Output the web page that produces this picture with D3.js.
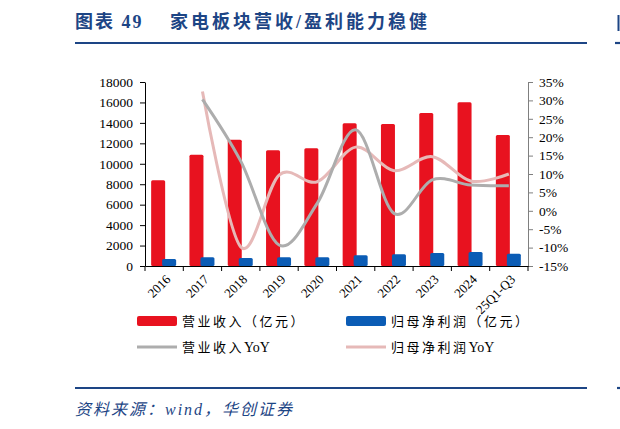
<!DOCTYPE html>
<html>
<head>
<meta charset="utf-8">
<script src="https://cdn.jsdelivr.net/npm/d3@7"></script>
<style>
  body { margin: 0; background: #fff; }
  svg { display: block; }
</style>
</head>
<body>
<div id="chart"></div>
<script>
// data
const categories = ["2016", "2017", "2018", "2019", "2020", "2021", "2022", "2023", "2024", "25Q1-Q3"];
const revenue = [8400, 10890, 12360, 11320, 11510, 13960, 13890, 14970, 16010, 12820];
const netProfit = [680, 850, 780, 850, 850, 1040, 1140, 1270, 1370, 1200];
const revenueYoY = [null, 30.3, 13.5, -9.3, 2.1, 22, -0.7, 8.4, 7, 6.8];
const profitYoY = [null, 32.4, -9.8, 9.7, 7.9, 17.3, 10.9, 14.7, 8.1, 10];
const leftTicks = [0, 2000, 4000, 6000, 8000, 10000, 12000, 14000, 16000, 18000];
const rightTicks = [-15, -10, -5, 0, 5, 10, 15, 20, 25, 30, 35];

const W = 620, H = 429;
const plot = { left: 145, right: 528, top: 82, bottom: 266 };
const navy = "#1d4585";
const red = "#e8121f", blue = "#0b5cb5", gray = "#adadad", pink = "#e6b9b8";
const serif = "'Liberation Serif', 'Times New Roman', serif";
const mixed = "'Liberation Serif', 'Noto Sans CJK SC', serif";

const svg = d3.select("#chart").append("svg")
  .attr("width", W)
  .attr("height", H);

// === Header / footer ===
svg.append("text")
  .attr("x", 75).attr("y", 28)
  .attr("fill", navy)
  .style("font-family", mixed)
  .style("font-weight", "bold")
  .style("font-size", "18px")
  .style("letter-spacing", "2px")
  .text("图表 49");

svg.append("text")
  .attr("x", 170).attr("y", 28)
  .attr("fill", navy)
  .style("font-family", mixed)
  .style("font-weight", "bold")
  .style("font-size", "18px")
  .style("letter-spacing", "3px")
  .text("家电板块营收/盈利能力稳健");

svg.append("line").attr("x1", 75).attr("x2", 587).attr("y1", 43).attr("y2", 43)
  .attr("stroke", navy).attr("stroke-width", 2.2);
svg.append("line").attr("x1", 75).attr("x2", 587).attr("y1", 388).attr("y2", 388)
  .attr("stroke", navy).attr("stroke-width", 2.2);
// fragments of the neighbouring column at the right edge
svg.append("line").attr("x1", 615).attr("x2", 620).attr("y1", 43).attr("y2", 43)
  .attr("stroke", navy).attr("stroke-width", 2.2);
svg.append("line").attr("x1", 618.5).attr("x2", 618.5).attr("y1", 15).attr("y2", 31)
  .attr("stroke", navy).attr("stroke-width", 2);
svg.append("line").attr("x1", 617).attr("x2", 620).attr("y1", 388).attr("y2", 388)
  .attr("stroke", navy).attr("stroke-width", 2.2);

svg.append("text")
  .attr("x", 75).attr("y", 415)
  .attr("fill", navy)
  .style("font-family", mixed)
  .style("font-style", "italic")
  .style("font-size", "16px")
  .style("letter-spacing", "2px")
  .text("资料来源：wind，华创证券");

// === Scales ===
const x = d3.scaleBand()
  .domain(categories)
  .range([plot.left, plot.right]);

const yL = d3.scaleLinear()
  .domain([0, 18000])
  .range([plot.bottom, plot.top]);

const yR = d3.scaleLinear()
  .domain([-15, 35])
  .range([plot.bottom, plot.top]);

const cx = c => x(c) + x.bandwidth() / 2;

// === Bars ===
const barW = 14;
svg.append("g").selectAll("rect")
  .data(categories)
  .join("rect")
  .attr("x", c => cx(c) - 13)
  .attr("y", (c, i) => yL(revenue[i]))
  .attr("width", barW)
  .attr("height", (c, i) => yL(0) - yL(revenue[i]))
  .attr("rx", 1.5)
  .attr("fill", red);

svg.append("g").selectAll("rect")
  .data(categories)
  .join("rect")
  .attr("x", c => cx(c) - 2)
  .attr("y", (c, i) => yL(netProfit[i]))
  .attr("width", barW)
  .attr("height", (c, i) => yL(0) - yL(netProfit[i]))
  .attr("rx", 1.5)
  .attr("fill", blue);

// === YoY lines ===
const lineGen = d3.line()
  .x(d => cx(d.c))
  .y(d => yR(d.v))
  .curve(d3.curveCardinal.tension(0));

svg.append("path")
  .datum(categories.map((c, i) => ({ c, v: profitYoY[i] })).filter(d => d.v !== null))
  .attr("d", lineGen)
  .attr("fill", "none")
  .attr("stroke", pink)
  .attr("stroke-width", 3);

svg.append("path")
  .datum(categories.map((c, i) => ({ c, v: revenueYoY[i] })).filter(d => d.v !== null))
  .attr("d", lineGen)
  .attr("fill", "none")
  .attr("stroke", gray)
  .attr("stroke-width", 3);

// === Axes ===
const gL = svg.append("g")
  .attr("transform", `translate(${plot.left},0)`)
  .call(d3.axisLeft(yL).tickValues(leftTicks).tickSize(5).tickSizeOuter(0).tickPadding(7)
    .tickFormat(d3.format("d")));

const gR = svg.append("g")
  .attr("transform", `translate(${plot.right},0)`)
  .call(d3.axisRight(yR).tickValues(rightTicks).tickSize(5).tickSizeOuter(0).tickPadding(6)
    .tickFormat(d => d + "%"));
gR.selectAll("line, path").attr("stroke", "#7f7f7f");

const gB = svg.append("g")
  .attr("transform", `translate(0,${plot.bottom})`)
  .call(d3.axisBottom(x).tickSize(0).tickSizeOuter(0).tickPadding(0));
gB.selectAll("text")
  .attr("y", 0)
  .attr("dy", "0.35em")
  .attr("text-anchor", "end")
  .attr("transform", "translate(4,11) rotate(-45)");

// category boundary ticks on the x axis
svg.append("g").selectAll("line")
  .data(categories.concat(["end"]))
  .join("line")
  .attr("x1", c => c === "end" ? plot.right : x(c))
  .attr("x2", c => c === "end" ? plot.right : x(c))
  .attr("y1", plot.bottom)
  .attr("y2", plot.bottom + 5)
  .attr("stroke", "#000");

[gL, gR, gB].forEach(g => g.selectAll("text")
  .attr("fill", "#000")
  .style("font-family", serif)
  .style("font-size", "13.5px"));
gB.selectAll("text").style("font-size", "13px");

// === Legend ===
const legendItems = [
  { label: "营业收入（亿元）", suffix: "", type: "rect", color: red, x: 137, y: 321 },
  { label: "归母净利润（亿元）", suffix: "", type: "rect", color: blue, x: 346, y: 321 },
  { label: "营业收入", suffix: "YoY", type: "line", color: gray, x: 137, y: 347 },
  { label: "归母净利润", suffix: "YoY", type: "line", color: pink, x: 346, y: 347 }
];

const legend = svg.append("g").selectAll("g")
  .data(legendItems)
  .join("g")
  .attr("transform", d => `translate(${d.x},${d.y})`);

legend.filter(d => d.type === "rect").append("rect")
  .attr("x", 0).attr("y", -5)
  .attr("width", 40).attr("height", 10)
  .attr("rx", 2)
  .attr("fill", d => d.color);

legend.filter(d => d.type === "line").append("line")
  .attr("x1", 0).attr("x2", 40)
  .attr("stroke", d => d.color)
  .attr("stroke-width", 3);

const legendText = legend.append("text")
  .attr("x", 45)
  .attr("dy", "0.38em")
  .style("font-family", mixed)
  .style("font-size", "13px");

legendText.append("tspan")
  .style("letter-spacing", "2.5px")
  .text(d => d.label);

legendText.append("tspan")
  .style("font-size", "14px")
  .text(d => d.suffix);
</script>
</body>
</html>
